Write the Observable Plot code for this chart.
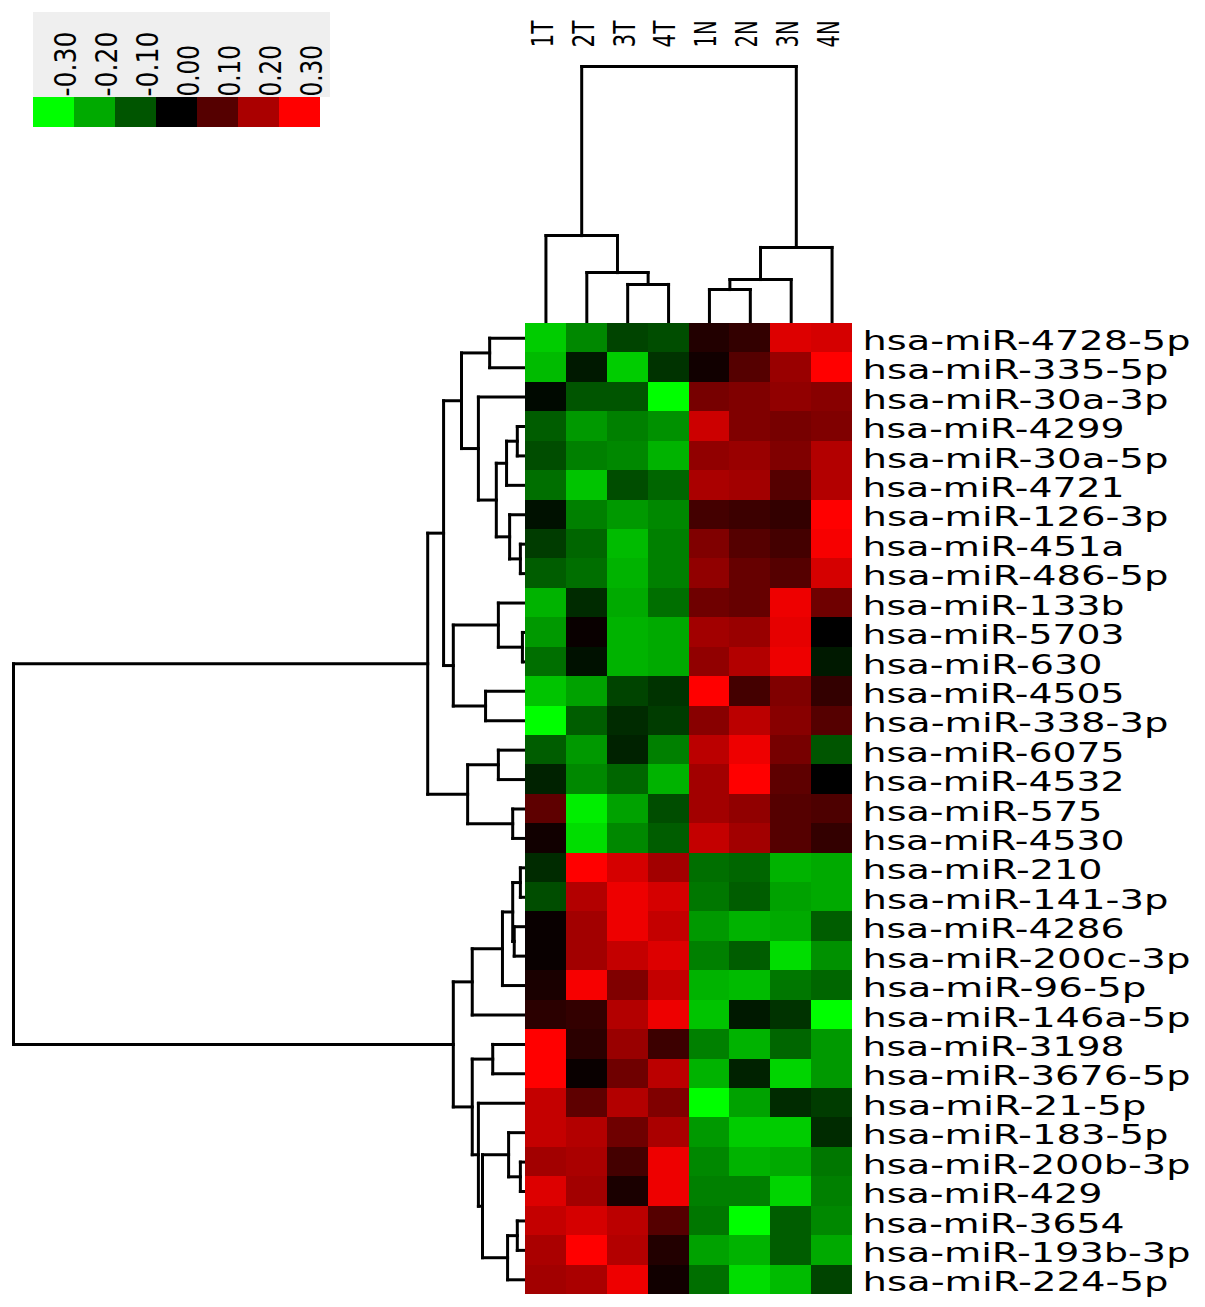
<!DOCTYPE html>
<html>
<head>
<meta charset="utf-8">
<script src="https://cdn.jsdelivr.net/npm/d3@7"></script>
<script src="https://cdn.jsdelivr.net/npm/@observablehq/plot@0.6"></script>
<style>
  html, body { margin: 0; padding: 0; background: #ffffff; }
  #chart { position: relative; width: 1205px; height: 1307px; background: #ffffff; overflow: hidden; font-family: "DejaVu Sans", sans-serif; }
  .layer { position: absolute; left: 0; top: 0; }
  .layer svg { display: block; max-width: none !important; background: transparent; }
  #legendbg { position: absolute; left: 33px; top: 12px; width: 297px; height: 85px; background: #efefef; }
</style>
</head>
<body>
<div id="chart">
  <div id="legendbg"></div>
  <div id="legend" class="layer"></div>
  <div id="rowdendro" class="layer"></div>
  <div id="coldendro" class="layer"></div>
  <div id="heat" class="layer"></div>
</div>
<script>
// ---------------- data ----------------
const columns = ["1T", "2T", "3T", "4T", "1N", "2N", "3N", "4N"];

const mirnas = [
  "hsa-miR-4728-5p", "hsa-miR-335-5p", "hsa-miR-30a-3p", "hsa-miR-4299", "hsa-miR-30a-5p",
  "hsa-miR-4721", "hsa-miR-126-3p", "hsa-miR-451a", "hsa-miR-486-5p", "hsa-miR-133b",
  "hsa-miR-5703", "hsa-miR-630", "hsa-miR-4505", "hsa-miR-338-3p", "hsa-miR-6075",
  "hsa-miR-4532", "hsa-miR-575", "hsa-miR-4530", "hsa-miR-210", "hsa-miR-141-3p",
  "hsa-miR-4286", "hsa-miR-200c-3p", "hsa-miR-96-5p", "hsa-miR-146a-5p", "hsa-miR-3198",
  "hsa-miR-3676-5p", "hsa-miR-21-5p", "hsa-miR-183-5p", "hsa-miR-200b-3p", "hsa-miR-429",
  "hsa-miR-3654", "hsa-miR-193b-3p", "hsa-miR-224-5p"
];

const values1T = [-0.24, -0.22, -0.01, -0.11, -0.09, -0.13, -0.02, -0.07, -0.11, -0.21, -0.18, -0.13, -0.23, -0.30, -0.11, -0.04, 0.11, 0.02, -0.05, -0.09, 0.01, 0.01, 0.03, 0.05, 0.30, 0.30, 0.23, 0.23, 0.19, 0.26, 0.23, 0.20, 0.19];
const values2T = [-0.16, -0.03, -0.10, -0.18, -0.15, -0.23, -0.15, -0.12, -0.13, -0.05, 0.01, -0.02, -0.19, -0.11, -0.18, -0.16, -0.28, -0.26, 0.30, 0.21, 0.19, 0.19, 0.29, 0.06, 0.05, 0.01, 0.11, 0.21, 0.20, 0.19, 0.25, 0.30, 0.20];
const values3T = [-0.08, -0.24, -0.10, -0.15, -0.16, -0.09, -0.18, -0.22, -0.21, -0.20, -0.21, -0.21, -0.08, -0.05, -0.04, -0.12, -0.19, -0.16, 0.25, 0.28, 0.28, 0.23, 0.15, 0.21, 0.18, 0.13, 0.21, 0.13, 0.08, 0.03, 0.22, 0.21, 0.28];
const values4T = [-0.09, -0.06, -0.30, -0.17, -0.21, -0.12, -0.16, -0.15, -0.15, -0.13, -0.20, -0.20, -0.06, -0.07, -0.15, -0.21, -0.09, -0.11, 0.19, 0.25, 0.23, 0.26, 0.23, 0.28, 0.07, 0.22, 0.15, 0.20, 0.28, 0.28, 0.10, 0.04, 0.02];
const values1N = [0.04, 0.02, 0.14, 0.24, 0.17, 0.20, 0.08, 0.15, 0.17, 0.13, 0.19, 0.17, 0.30, 0.16, 0.22, 0.19, 0.19, 0.23, -0.13, -0.14, -0.18, -0.15, -0.21, -0.23, -0.15, -0.21, -0.30, -0.18, -0.16, -0.15, -0.14, -0.19, -0.13];
const values2N = [0.06, 0.10, 0.15, 0.15, 0.18, 0.19, 0.07, 0.10, 0.12, 0.12, 0.18, 0.21, 0.08, 0.22, 0.28, 0.30, 0.17, 0.19, -0.12, -0.11, -0.21, -0.11, -0.22, -0.03, -0.21, -0.04, -0.19, -0.24, -0.21, -0.15, -0.30, -0.21, -0.26];
const values3N = [0.26, 0.18, 0.17, 0.14, 0.15, 0.10, 0.06, 0.08, 0.10, 0.28, 0.27, 0.28, 0.15, 0.16, 0.14, 0.11, 0.10, 0.10, -0.21, -0.19, -0.20, -0.26, -0.14, -0.06, -0.12, -0.25, -0.05, -0.24, -0.20, -0.25, -0.11, -0.11, -0.22];
const values4N = [0.25, 0.30, 0.16, 0.15, 0.21, 0.21, 0.30, 0.29, 0.25, 0.13, 0.00, -0.03, 0.06, 0.10, -0.10, 0.00, 0.09, 0.06, -0.20, -0.20, -0.11, -0.17, -0.12, -0.30, -0.18, -0.18, -0.07, -0.05, -0.14, -0.15, -0.16, -0.20, -0.08];

// hierarchical clustering merges: [left, right, height]; negative = leaf (1-based), positive = earlier merge
const rowMerges = [
  [-1, -2, 0.070], [-4, -5, 0.016], [2, -6, 0.037], [-8, -9, 0.010], [-7, 4, 0.031],
  [3, 5, 0.057], [-3, 6, 0.092], [1, 7, 0.125], [-11, -12, 0.006], [-10, 9, 0.053],
  [-13, -14, 0.078], [10, 11, 0.141], [8, 12, 0.160], [-15, -16, 0.053], [-17, -18, 0.025],
  [14, 15, 0.113], [13, 16, 0.191], [-19, -20, 0.010], [-21, -22, 0.022], [18, 19, 0.025],
  [20, -23, 0.045], [21, -24, 0.104], [-25, -26, 0.064], [-29, -30, 0.010], [-28, 24, 0.033],
  [-31, -32, 0.016], [26, -33, 0.035], [25, 27, 0.084], [-27, 28, 0.092], [23, 29, 0.104],
  [22, 30, 0.141], [17, 31, 1.000]
];
const colMerges = [
  [-3, -4, 0.152], [-2, 1, 0.198], [-1, 2, 0.342],
  [-5, -6, 0.132], [4, -7, 0.171], [5, -8, 0.296], [3, 6, 1.000]
];

const legendLabels = ["-0.30", "-0.20", "-0.10", "0.00", "0.10", "0.20", "0.30"];
const legendValues = [-0.30, -0.20, -0.10, 0.00, 0.10, 0.20, 0.30];

// ---------------- build ----------------
const columnValues = [values1T, values2T, values3T, values4T, values1N, values2N, values3N, values4N];
const cells = [];
columns.forEach((c, j) => mirnas.forEach((m, i) => cells.push({col: c, mirna: m, value: columnValues[j][i]})));

function dendroSegments(merges) {
  const pos = [], ht = [], segs = [];
  const get = id => id < 0 ? {p: -id - 1 + 0.5, h: 0} : {p: pos[id - 1], h: ht[id - 1]};
  merges.forEach(([a, b, h], i) => {
    const A = get(a), B = get(b);
    pos[i] = (A.p + B.p) / 2; ht[i] = h;
    segs.push({p1: A.p, h1: A.h, p2: A.p, h2: h});
    segs.push({p1: B.p, h1: B.h, p2: B.p, h2: h});
    segs.push({p1: A.p, h1: h, p2: B.p, h2: h});
  });
  return segs;
}
const rowSegs = dendroSegments(rowMerges);
const colSegs = dendroSegments(colMerges);

const colorScale = {type: "linear", domain: [-0.3, 0, 0.3], range: ["#00ff00", "#000000", "#ff0000"], clamp: true};
const W = 1205, H = 1307;
const heatLeft = 525, heatRight = 852, heatTop = 323, heatBottom = 1294;

// stretch/condense glyphs to mimic the original bitmap font
function fitText(svg, perChar) {
  d3.select(svg).selectAll("text").each(function () {
    const n = this.textContent.length;
    this.setAttribute("textLength", perChar * n - 2);
    this.setAttribute("lengthAdjust", "spacingAndGlyphs");
  });
}

// heatmap
const heat = Plot.plot({
  width: W, height: H,
  marginLeft: heatLeft, marginRight: W - heatRight, marginTop: heatTop, marginBottom: H - heatBottom,
  style: {fontFamily: "DejaVu Sans", background: "transparent"},
  x: {type: "band", domain: columns, padding: 0, round: false, axis: null},
  y: {type: "band", domain: mirnas, padding: 0, round: false},
  color: colorScale,
  marks: [
    Plot.cell(cells, {x: "col", y: "mirna", fill: "value", inset: 0, shapeRendering: "crispEdges"}),
    Plot.axisY({anchor: "right", tickSize: 0, tickPadding: 10, dy: 3, fontSize: 27, label: null})
  ]
});
fitText(heat, 22);
document.getElementById("heat").appendChild(heat);

// row dendrogram
const rowD = Plot.plot({
  width: W, height: H,
  style: {background: "transparent"},
  x: {type: "linear", domain: [0, 1], range: [heatLeft, 13], axis: null},
  y: {type: "linear", domain: [0, mirnas.length], range: [heatTop, heatBottom], axis: null},
  marks: [
    Plot.link(rowSegs, {x1: "h1", x2: "h2", y1: "p1", y2: "p2", stroke: "#000", strokeWidth: 3, strokeLinecap: "square"})
  ]
});
document.getElementById("rowdendro").appendChild(rowD);

// column dendrogram + column labels
const colD = Plot.plot({
  width: W, height: H,
  marginTop: 48,
  style: {fontFamily: "DejaVu Sans", background: "transparent"},
  x: {type: "linear", domain: [0, columns.length], range: [heatLeft, heatRight], axis: null},
  y: {type: "linear", domain: [0, 1], range: [heatTop, 66], axis: null},
  marks: [
    Plot.link(colSegs, {x1: "p1", x2: "p2", y1: "h1", y2: "h2", stroke: "#000", strokeWidth: 3, strokeLinecap: "square"}),
    Plot.text(columns, {x: (d, i) => i + 0.5, text: d => d, frameAnchor: "top", rotate: -90, textAnchor: "start", lineAnchor: "middle", dx: -3, dy: -1, fontSize: 31, fill: "#000"})
  ]
});
fitText(colD, 14.5);
document.getElementById("coldendro").appendChild(colD);

// legend
const legend = Plot.plot({
  width: 340, height: 130,
  marginLeft: 33, marginRight: 20, marginTop: 97, marginBottom: 3,
  style: {fontFamily: "DejaVu Sans", background: "transparent"},
  x: {type: "band", domain: legendLabels, padding: 0, round: false, axis: null},
  color: colorScale,
  marks: [
    Plot.cell(legendLabels, {x: d => d, fill: (d, i) => legendValues[i], inset: 0, shapeRendering: "crispEdges"}),
    Plot.text(legendLabels, {x: d => d, text: d => d, frameAnchor: "top", rotate: -90, textAnchor: "start", lineAnchor: "middle", dx: 12, dy: -1, fontSize: 31, fill: "#000"})
  ]
});
fitText(legend, 13.4);
document.getElementById("legend").appendChild(legend);
</script>
</body>
</html>
